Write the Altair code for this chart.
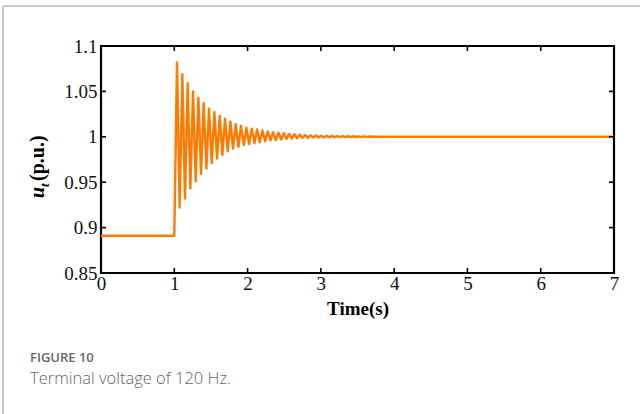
import altair as alt
import pandas as pd

# Terminal voltage trace: extrema (time in s, u_t in p.u.)
time_s = [0.0, 1.0, 1.037, 1.073, 1.110, 1.146, 1.183, 1.219, 1.256, 1.292,
          1.329, 1.365, 1.401, 1.438, 1.474, 1.511, 1.547, 1.584, 1.620, 1.656,
          1.693, 1.729, 1.766, 1.802, 1.838, 1.875, 1.911, 1.948, 1.984, 2.021,
          2.057, 2.093, 2.130, 2.166, 2.203, 2.239, 2.276, 2.312, 2.348, 2.385,
          2.421, 2.458, 2.494, 2.530, 2.567, 2.603, 2.640, 2.676, 2.713, 2.749,
          2.785, 2.822, 2.858, 2.895, 2.931, 2.967, 3.004, 3.040, 3.077, 3.113,
          3.150, 3.186, 3.222, 3.259, 3.295, 3.332, 3.368, 3.405, 3.441, 3.477,
          3.514, 3.550, 3.587, 3.623, 3.660, 3.700, 7.0]
u_t = [0.891, 0.891, 1.082, 0.922, 1.069, 0.932, 1.059, 0.943, 1.050, 0.951,
       1.043, 0.959, 1.037, 0.965, 1.031, 0.971, 1.027, 0.976, 1.023, 0.980,
       1.020, 0.984, 1.017, 0.987, 1.014, 0.989, 1.012, 0.991, 1.010, 0.992,
       1.009, 0.993, 1.008, 0.994, 1.007, 0.995, 1.006, 0.996, 1.005, 0.9965,
       1.0045, 0.997, 1.004, 0.9975, 1.0033, 0.998, 1.0028, 0.9983, 1.0024, 0.9986,
       1.002, 0.9988, 1.0017, 0.999, 1.0015, 0.9992, 1.0013, 0.9993, 1.0011, 0.9994,
       1.001, 0.9995, 1.0009, 0.9996, 1.0008, 0.9997, 1.0007, 0.9997, 1.0006, 0.9998,
       1.0005, 0.9998, 1.0004, 0.9999, 1.0003, 1.0, 1.0]

x_ticks = [0, 1, 2, 3, 4, 5, 6, 7]
y_ticks = [0.85, 0.9, 0.95, 1.0, 1.05, 1.1]

W, H = 513, 227
SERIF = "Liberation Serif"

df = pd.DataFrame({"t": time_s, "u": u_t})
xt = pd.DataFrame({"v": x_ticks})
yt = pd.DataFrame({"v": y_ticks})
one = pd.DataFrame({"k": [0]})

xs = alt.Scale(domain=[0, 7], nice=False, zero=False)
ys = alt.Scale(domain=[0.85, 1.1], nice=False, zero=False)

line = alt.Chart(df).mark_line(color="#FF7A00", strokeWidth=2.4, strokeJoin="round").encode(
    x=alt.X("t:Q", scale=xs,
            axis=alt.Axis(values=x_ticks, format="d", ticks=False, domain=False, grid=False,
                          labelFont=SERIF, labelFontSize=19, labelColor="#111111",
                          labelPadding=1, labelFlush=False,
                          title="Time(s)", titleFont=SERIF, titleFontSize=19,
                          titleFontWeight="bold", titleColor="black", titlePadding=6)),
    y=alt.Y("u:Q", scale=ys,
            axis=alt.Axis(values=y_ticks, labelExpr="format(datum.value, '~g')",
                          ticks=False, domain=False, grid=False,
                          labelFont=SERIF, labelFontSize=19, labelColor="#111111",
                          labelPadding=4, labelFlush=False, title=None)),
)

tick_style = dict(color="black", strokeWidth=1.6)
xb = alt.Chart(xt).mark_rule(**tick_style).encode(
    x=alt.X("v:Q", scale=xs), y=alt.value(H), y2=alt.value(H - 5))
xtop = alt.Chart(xt).mark_rule(**tick_style).encode(
    x=alt.X("v:Q", scale=xs), y=alt.value(0), y2=alt.value(5))
yl = alt.Chart(yt).mark_rule(**tick_style).encode(
    y=alt.Y("v:Q", scale=ys), x=alt.value(0), x2=alt.value(5))
yr = alt.Chart(yt).mark_rule(**tick_style).encode(
    y=alt.Y("v:Q", scale=ys), x=alt.value(W), x2=alt.value(W - 5))

# y-axis title pieces: bold italic u, italic subscript t, bold (p.u.)
t_u = alt.Chart(one).mark_text(text="u", font=SERIF, fontSize=20, fontWeight="bold",
                               fontStyle="italic", angle=270, align="left",
                               baseline="alphabetic", color="black").encode(
    x=alt.value(-57), y=alt.value(152))
t_sub = alt.Chart(one).mark_text(text="t", font=SERIF, fontSize=13, fontStyle="italic",
                                 fontWeight="bold", angle=270, align="left",
                                 baseline="alphabetic", color="black").encode(
    x=alt.value(-52), y=alt.value(141))
t_pu = alt.Chart(one).mark_text(text="(p.u.)", font=SERIF, fontSize=20, fontWeight="bold",
                                angle=270, align="left", baseline="alphabetic",
                                color="black").encode(
    x=alt.value(-57), y=alt.value(135))

# caption
cap1 = alt.Chart(one).mark_text(text="FIGURE 10", font="Open Sans", fontSize=13,
                                fontWeight=600, color="#666666", align="left",
                                baseline="alphabetic").encode(
    x=alt.value(-71), y=alt.value(316))
cap2 = alt.Chart(one).mark_text(text="Terminal voltage of 120 Hz.", font="Open Sans",
                                fontSize=16.5, fontWeight=300, color="#666666",
                                align="left", baseline="alphabetic").encode(
    x=alt.value(-71), y=alt.value(338))

# page border (top and left)
b_top = alt.Chart(one).mark_rule(color="#BBBBBB", strokeWidth=1.5).encode(
    x=alt.value(-98), x2=alt.value(539), y=alt.value(-40))
b_left = alt.Chart(one).mark_rule(color="#BBBBBB", strokeWidth=1.5).encode(
    x=alt.value(-98), y=alt.value(-40), y2=alt.value(368))

chart = alt.layer(line, xb, xtop, yl, yr, t_u, t_sub, t_pu, cap1, cap2, b_top, b_left).properties(
    width=W, height=H,
    autosize=alt.AutoSizeParams(type="none"),
    padding={"left": 101, "top": 46, "right": 26, "bottom": 141},
    background="white",
).configure_view(stroke="black", strokeWidth=2.2)

chart.save("out.html", embed_options={"renderer": "svg", "actions": False})
